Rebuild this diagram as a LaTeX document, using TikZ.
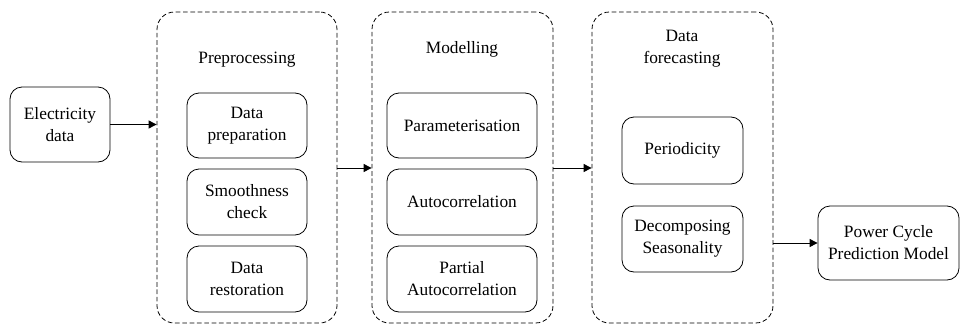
\documentclass[tikz,border=0pt]{standalone}
\usepackage{fontspec}
\setmainfont{Liberation Serif}
\newfontfamily\tnr{Liberation Serif}
\usetikzlibrary{arrows.meta}
\begin{document}
\begin{tikzpicture}[x=0.75pt,y=-0.75pt,
  every node/.style={font=\tnr\fontsize{13}{16.5}\selectfont, align=center, inner sep=0pt},
  box/.style={draw, line width=0.6pt, rounded corners=9pt, minimum width=#1*0.75pt},
  group/.style={draw, dash pattern=on 3.5pt off 2pt, line width=0.6pt, rounded corners=13pt},
  conn/.style={line width=0.7pt, -{Triangle[length=6pt,width=6pt]}}
]
\useasboundingbox (0,0) rectangle (960,325);
% containers
\node[group, minimum width=135pt, minimum height=233.25pt] (g1) at (247,167.5) {};
\node[group, minimum width=135.75pt, minimum height=233.25pt] (g2) at (462.5,167.5) {};
\node[group, minimum width=135.75pt, minimum height=233.25pt] (g3) at (682.5,167.5) {};
% labels
\node (l1) at (247,60) {Preprocessing};
\node (l2) at (462,49) {Modelling};
\node (l3) at (682,49) {Data\\forecasting};
% outer boxes
\node[box=100, minimum height=56.25pt] (elec) at (60,124.5) {Electricity\\data};
\node[box=141, minimum height=55.5pt] (power) at (888.5,243) {Power Cycle\\Prediction Model};
% preprocessing boxes
\node[box=120, minimum height=48.75pt] (p1) at (247,125.5) {Data\\preparation};
\node[box=120, minimum height=49.5pt] (p2) at (247,202) {Smoothness\\check};
\node[box=120, minimum height=49.5pt] (p3) at (247,279) {Data\\restoration};
% modelling boxes
\node[box=150, minimum height=48.75pt] (m1) at (462,125.5) {Parameterisation};
\node[box=150, minimum height=49.5pt] (m2) at (462,202) {Autocorrelation};
\node[box=150, minimum height=49.5pt] (m3) at (462,279) {Partial\\Autocorrelation};
% forecasting boxes
\node[box=121, minimum height=50.25pt] (f1) at (682.5,150.5) {Periodicity};
\node[box=121, minimum height=49.5pt] (f2) at (682.5,239) {Decomposing\\Seasonality};
% connectors
\coordinate (a1) at (g1.west |- elec.east);
\draw[conn] (elec.east) -- (a1);
\coordinate (b0) at (g1.east |- 0,168);
\coordinate (b1) at (g2.west |- 0,168);
\draw[conn] (b0) -- (b1);
\coordinate (c0) at (g2.east |- 0,168);
\coordinate (c1) at (g3.west |- 0,168);
\draw[conn] (c0) -- (c1);
\coordinate (d0) at (g3.east |- power.west);
\draw[conn] (d0) -- (power.west);
\end{tikzpicture}
\end{document}
